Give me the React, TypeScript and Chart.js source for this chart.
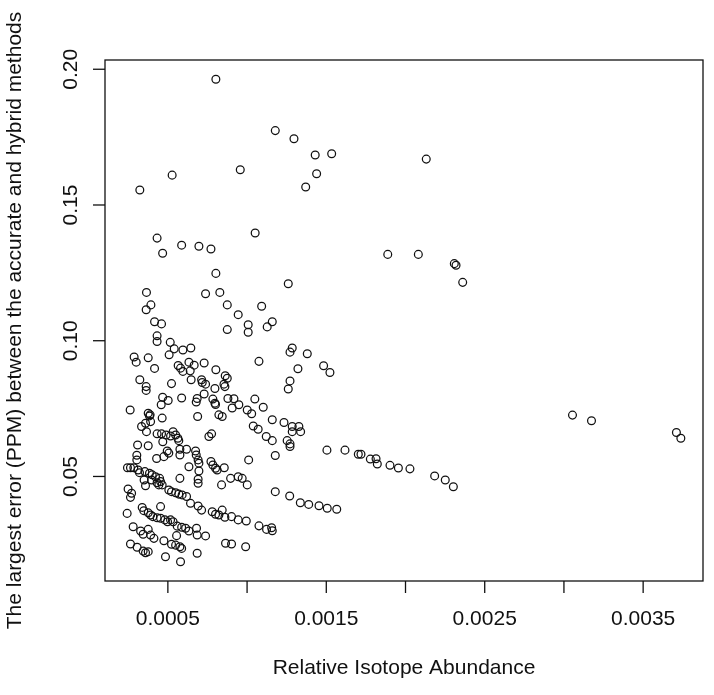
import React, { useEffect, useRef } from "react";
import { Chart, registerables } from "chart.js";

Chart.register(...registerables);

// Relative isotope abundance (x) and the largest error in PPM (y)
const abundance = [
  0.000803,
  0.000527, 0.000323, 0.000432, 0.000467, 0.000587, 0.000696, 0.000772, 0.000803,
  0.001178, 0.001296, 0.001430, 0.001534, 0.000957, 0.001439, 0.001370, 0.001051, 0.001260,
  0.002131, 0.001888, 0.002081, 0.002308, 0.002319, 0.002361, 0.003054, 0.003174, 0.003710, 0.003738,
  0.001618, 0.001702, 0.001719, 0.001778, 0.001814, 0.001822, 0.001902, 0.001955, 0.002028, 0.002184, 0.002251, 0.002302,
  0.001092, 0.000944, 0.001007, 0.001007, 0.001127, 0.001159, 0.001285, 0.001271, 0.001380, 0.001075, 0.001321,
  0.001483, 0.001523, 0.001271, 0.001260, 0.000917, 0.000906, 0.000948, 0.001001, 0.001029, 0.001049, 0.001102,
  0.001039, 0.001070, 0.001159, 0.001233, 0.001285, 0.001327, 0.001285, 0.001338, 0.001121, 0.001159, 0.001253,
  0.001271, 0.001271, 0.001504, 0.001010, 0.001178, 0.000896, 0.000944, 0.000969, 0.001001, 0.001178, 0.001269,
  0.001336, 0.001389, 0.001454, 0.001506, 0.001566, 0.000902, 0.000944, 0.000995, 0.001075, 0.001123, 0.001155,
  0.001159, 0.000902, 0.000991,
  0.000365, 0.000738, 0.000828, 0.000393, 0.000363, 0.000875, 0.000416, 0.000460, 0.000875, 0.000432, 0.000432,
  0.000515, 0.000540, 0.000595, 0.000645, 0.000508, 0.000287, 0.000300, 0.000376, 0.000416, 0.000565, 0.000580,
  0.000595, 0.000633, 0.000641, 0.000666, 0.000729, 0.000803, 0.000862, 0.000875, 0.000323, 0.000363, 0.000363,
  0.000523, 0.000647, 0.000713, 0.000717, 0.000738, 0.000854, 0.000860, 0.000797, 0.000467, 0.000502, 0.000458,
  0.000587, 0.000729, 0.000685, 0.000679, 0.000784, 0.000797, 0.000801, 0.000879, 0.000262, 0.000376, 0.000388,
  0.000384, 0.000464, 0.000688, 0.000822, 0.000843,
  0.000334, 0.000359, 0.000391, 0.000365, 0.000432, 0.000460, 0.000489, 0.000517, 0.000533, 0.000549, 0.000563,
  0.000569, 0.000468, 0.000759, 0.000776, 0.000309, 0.000376, 0.000496, 0.000576, 0.000618, 0.000576, 0.000675,
  0.000679, 0.000429, 0.000475, 0.000506, 0.000304, 0.000304, 0.000691, 0.000696, 0.000772, 0.000784, 0.000801,
  0.000811, 0.000856, 0.000633, 0.000245, 0.000264, 0.000285, 0.000312, 0.000321, 0.000696, 0.000355, 0.000384,
  0.000401, 0.000422, 0.000448, 0.000454, 0.000464, 0.000397, 0.000432, 0.000443, 0.000350, 0.000576, 0.000691,
  0.000691, 0.000359, 0.000839, 0.000506, 0.000523, 0.000549, 0.000569, 0.000590, 0.000618, 0.000249, 0.000271,
  0.000264, 0.000643, 0.000691, 0.000713, 0.000454, 0.000243, 0.000338, 0.000348, 0.000376, 0.000391, 0.000405,
  0.000432, 0.000454, 0.000481, 0.000498, 0.000517, 0.000533, 0.000559, 0.000587, 0.000612, 0.000633, 0.000681,
  0.000685, 0.000738, 0.000555, 0.000780, 0.000801, 0.000822, 0.000843, 0.000860, 0.000281, 0.000328, 0.000344,
  0.000376, 0.000391, 0.000412, 0.000475, 0.000523, 0.000549, 0.000576, 0.000587, 0.000264, 0.000306, 0.000344,
  0.000359, 0.000376, 0.000685, 0.000485, 0.000580, 0.000864,
];

const largestError = [
  0.1963,
  0.1610, 0.1555, 0.1378, 0.1322, 0.1352, 0.1348, 0.1338, 0.1248,
  0.1774, 0.1744, 0.1684, 0.1689, 0.1630, 0.1615, 0.1566, 0.1397, 0.1210,
  0.1669, 0.1318, 0.1318, 0.1284, 0.1278, 0.1215, 0.0726, 0.0705, 0.0662, 0.0641,
  0.0597, 0.0582, 0.0582, 0.0564, 0.0565, 0.0546, 0.0541, 0.0531, 0.0528, 0.0502, 0.0487, 0.0462,
  0.1127, 0.1096, 0.1059, 0.1031, 0.1051, 0.1070, 0.0973, 0.0958, 0.0952, 0.0924, 0.0897,
  0.0908, 0.0883, 0.0852, 0.0822, 0.0786, 0.0752, 0.0764, 0.0745, 0.0731, 0.0785, 0.0755,
  0.0686, 0.0674, 0.0709, 0.0699, 0.0684, 0.0684, 0.0665, 0.0665, 0.0647, 0.0632, 0.0632,
  0.0620, 0.0610, 0.0597, 0.0561, 0.0577, 0.0493, 0.0499, 0.0493, 0.0469, 0.0444, 0.0428,
  0.0403, 0.0397, 0.0392, 0.0383, 0.0379, 0.0352, 0.0340, 0.0336, 0.0318, 0.0305, 0.0311,
  0.0300, 0.0251, 0.0241,
  0.1178, 0.1173, 0.1178, 0.1132, 0.1114, 0.1132, 0.1070, 0.1062, 0.1041, 0.1018, 0.0997,
  0.0994, 0.0970, 0.0966, 0.0973, 0.0948, 0.0940, 0.0921, 0.0937, 0.0898, 0.0909, 0.0899,
  0.0887, 0.0921, 0.0889, 0.0910, 0.0918, 0.0893, 0.0871, 0.0862, 0.0856, 0.0831, 0.0817,
  0.0842, 0.0856, 0.0856, 0.0846, 0.0840, 0.0840, 0.0831, 0.0824, 0.0792, 0.0780, 0.0764,
  0.0789, 0.0804, 0.0787, 0.0774, 0.0785, 0.0770, 0.0765, 0.0787, 0.0745, 0.0733, 0.0727,
  0.0723, 0.0715, 0.0721, 0.0727, 0.0721,
  0.0684, 0.0696, 0.0702, 0.0665, 0.0657, 0.0657, 0.0653, 0.0649, 0.0665, 0.0653, 0.0641,
  0.0632, 0.0628, 0.0647, 0.0657, 0.0616, 0.0613, 0.0594, 0.0600, 0.0600, 0.0579, 0.0594,
  0.0579, 0.0566, 0.0573, 0.0586, 0.0578, 0.0561, 0.0561, 0.0549, 0.0555, 0.0542, 0.0530,
  0.0524, 0.0532, 0.0536, 0.0532, 0.0532, 0.0532, 0.0524, 0.0514, 0.0520, 0.0518, 0.0512,
  0.0506, 0.0499, 0.0493, 0.0481, 0.0469, 0.0487, 0.0477, 0.0469, 0.0487, 0.0493, 0.0490,
  0.0475, 0.0466, 0.0469, 0.0450, 0.0444, 0.0440, 0.0435, 0.0432, 0.0426, 0.0454, 0.0438,
  0.0423, 0.0401, 0.0391, 0.0376, 0.0389, 0.0364, 0.0386, 0.0374, 0.0366, 0.0358, 0.0352,
  0.0348, 0.0346, 0.0340, 0.0333, 0.0340, 0.0333, 0.0317, 0.0313, 0.0309, 0.0299, 0.0309,
  0.0284, 0.0281, 0.0282, 0.0370, 0.0361, 0.0358, 0.0376, 0.0350, 0.0315, 0.0299, 0.0287,
  0.0305, 0.0284, 0.0272, 0.0263, 0.0250, 0.0247, 0.0241, 0.0235, 0.0251, 0.0239, 0.0225,
  0.0219, 0.0223, 0.0217, 0.0204, 0.0186, 0.0254,
];

const xTickValues = [0.0005, 0.001, 0.0015, 0.002, 0.0025, 0.003, 0.0035];
const xTickLabels = ["0.0005", "", "0.0015", "", "0.0025", "", "0.0035"];
const yTickValues = [0.05, 0.1, 0.15, 0.2];
const yTickLabels = ["0.05", "0.10", "0.15", "0.20"];

const xTitle = "Relative Isotope Abundance";
const yTitle = "The largest error (PPM) between the accurate and hybrid methods";

const FONT = '"Liberation Sans", Arial, Helvetica, sans-serif';

function extendedRange(values: number[]) {
  const lo = Math.min(...values);
  const hi = Math.max(...values);
  const pad = (hi - lo) * 0.04;
  return { min: lo - pad, max: hi + pad };
}

const rAxesPlugin = {
  id: "rAxes",
  afterDraw(chart: any) {
    const ctx = chart.ctx as CanvasRenderingContext2D;
    const area = chart.chartArea;
    const xs = chart.scales.x;
    const ys = chart.scales.y;
    ctx.save();
    ctx.strokeStyle = "#111";
    ctx.fillStyle = "#111";
    ctx.lineWidth = 1.3;
    ctx.strokeRect(area.left, area.top, area.right - area.left, area.bottom - area.top);
    ctx.font = `21px ${FONT}`;
    ctx.textAlign = "center";
    ctx.textBaseline = "top";
    xTickValues.forEach((v, i) => {
      const px = xs.getPixelForValue(v);
      ctx.beginPath();
      ctx.moveTo(px, area.bottom);
      ctx.lineTo(px, area.bottom + 12);
      ctx.stroke();
      if (xTickLabels[i]) ctx.fillText(xTickLabels[i], px, area.bottom + 28);
    });
    yTickValues.forEach((v, i) => {
      const py = ys.getPixelForValue(v);
      ctx.beginPath();
      ctx.moveTo(area.left, py);
      ctx.lineTo(area.left - 12, py);
      ctx.stroke();
      ctx.save();
      ctx.translate(area.left - 23, py);
      ctx.rotate(-Math.PI / 2);
      ctx.textAlign = "center";
      ctx.textBaseline = "bottom";
      ctx.fillText(yTickLabels[i], 0, 0);
      ctx.restore();
    });
    ctx.textAlign = "center";
    ctx.textBaseline = "top";
    ctx.fillText(xTitle, (area.left + area.right) / 2, area.bottom + 77);
    ctx.save();
    ctx.translate(area.left - 79, (area.top + area.bottom) / 2);
    ctx.rotate(-Math.PI / 2);
    ctx.textAlign = "center";
    ctx.textBaseline = "bottom";
    ctx.fillText(yTitle, 0, 0);
    ctx.restore();
    ctx.restore();
  },
};

export default function App() {
  const ref = useRef<HTMLCanvasElement | null>(null);
  useEffect(() => {
    document.body.style.margin = "0";
    document.body.style.background = "#fff";
    const canvas = ref.current;
    if (!canvas) return;
    const xr = extendedRange(abundance);
    const yr = extendedRange(largestError);
    const chart = new Chart(canvas, {
      type: "scatter",
      data: {
        datasets: [
          {
            data: abundance.map((x, i) => ({ x, y: largestError[i] })),
            pointStyle: "circle",
            pointRadius: 3.9,
            pointHoverRadius: 3.9,
            borderColor: "#111",
            backgroundColor: "rgba(0,0,0,0)",
            borderWidth: 1.25,
          },
        ],
      },
      options: {
        animation: false,
        responsive: false,
        maintainAspectRatio: false,
        devicePixelRatio: 1,
        layout: { padding: { left: 105, right: 11, top: 60, bottom: 114 } },
        plugins: { legend: { display: false }, tooltip: { enabled: false } },
        scales: {
          x: { type: "linear", display: false, min: xr.min, max: xr.max },
          y: { type: "linear", display: false, min: yr.min, max: yr.max },
        },
      },
      plugins: [rAxesPlugin],
    });
    return () => chart.destroy();
  }, []);
  return (
    <div style={{ width: 714, height: 695, background: "#fff" }}>
      <canvas ref={ref} width={714} height={695} style={{ display: "block", width: 714, height: 695 }} />
    </div>
  );
}
